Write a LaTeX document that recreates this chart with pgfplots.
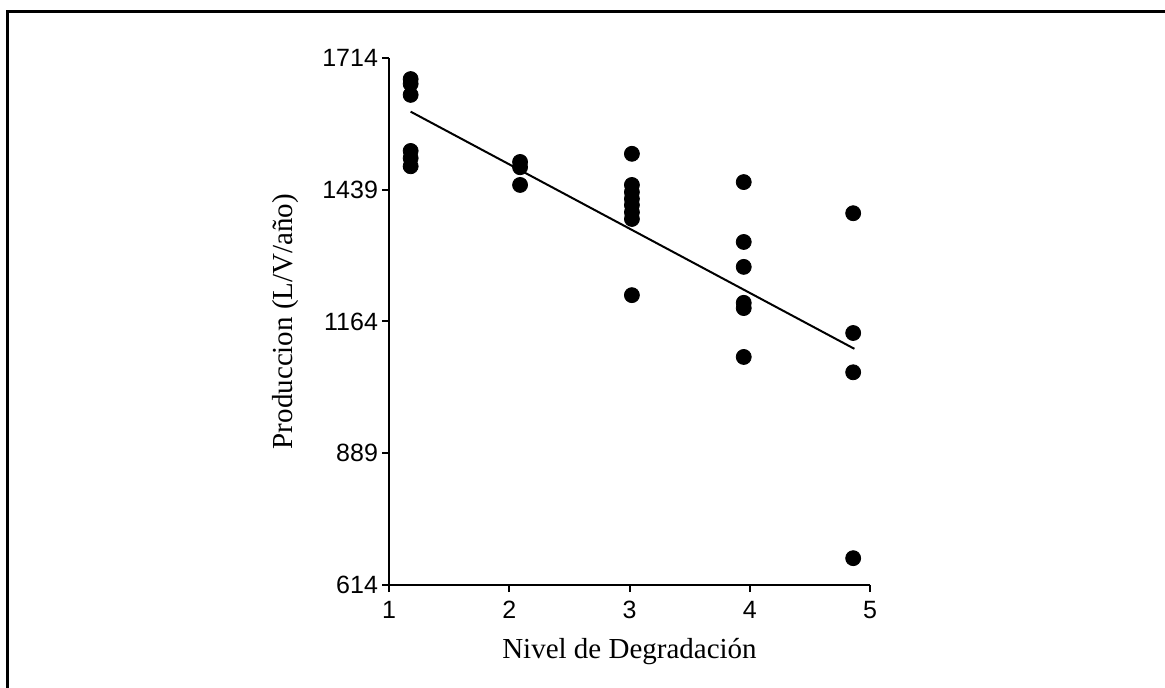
\documentclass[border=0pt]{standalone}
\usepackage{fontspec}
\setmainfont{Liberation Serif}
\newfontfamily\arial{Liberation Sans}
\usepackage{pgfplots}
\pgfplotsset{compat=1.18}

\begin{document}
\begin{tikzpicture}
\useasboundingbox (0,0) rectangle (582.5pt,-344pt);
% frame, only top and left edges are visible
\draw[line width=1.5pt] (3.5pt,-350pt) -- (3.5pt,-6pt) -- (590pt,-6pt);
\begin{axis}[
  at={(194.5pt,-292.5pt)}, anchor=south west,
  scale only axis,
  width=240.5pt, height=263.5pt,
  xmin=1, xmax=5, ymin=614, ymax=1714,
  xtick={1,2,3,4,5},
  ytick={614,889,1164,1439,1714},
  axis lines=left,
  axis line style={-, line width=1pt},
  tick style={line width=1pt, black},
  tick align=outside,
  major tick length=3.5pt,
  ticklabel style={font=\arial\fontsize{12.5}{14}\selectfont},
  /pgf/number format/assume math mode=true,
  /pgf/number format/set thousands separator={},
  xticklabel style={yshift=-1pt},
  yticklabel style={xshift=1.5pt},
  xlabel={Nivel de Degradación},
  ylabel={Produccion (L/V/año)},
  label style={font=\fontsize{14.5}{16}\selectfont},
  xlabel style={yshift=-3pt},
  ylabel style={yshift=5pt},
  clip=false,
]
\addplot[only marks, mark=*, mark size=3.75pt, black] coordinates {
  (1.18,1670)(1.18,1660)(1.18,1637)(1.18,1520)(1.18,1505)(1.18,1488)
  (2.09,1497)(2.09,1486)(2.09,1449)
  (3.02,1514)(3.02,1449)(3.02,1434)(3.02,1420)(3.02,1407)(3.02,1392)(3.02,1378)(3.02,1219)
  (3.95,1455)(3.95,1330)(3.95,1278)(3.95,1203)(3.95,1192)(3.95,1090)
  (4.86,1390)(4.86,1140)(4.86,1058)(4.86,670)
};
\addplot[black, line width=1pt] coordinates {(1.18,1602)(4.87,1107)};
\end{axis}
\end{tikzpicture}
\end{document}
